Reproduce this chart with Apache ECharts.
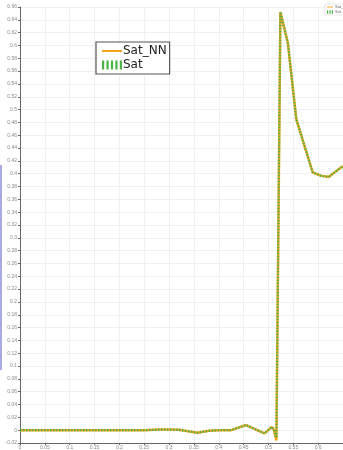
<!DOCTYPE html>
<html>
<head>
<meta charset="utf-8">
<script src="https://cdn.jsdelivr.net/npm/echarts@6/dist/echarts.min.js"></script>
<style>
  html, body { margin: 0; padding: 0; background: #fff; }
  #chart { width: 343px; height: 450px; }
</style>
</head>
<body>
<div id="chart"></div>
<script>
// Saturation profiles along the domain
const xPos   = [0, 0.05, 0.1, 0.15, 0.2, 0.25, 0.28, 0.3, 0.32, 0.357, 0.38, 0.4, 0.425, 0.455, 0.492, 0.507, 0.511, 0.516, 0.524, 0.539, 0.556, 0.589, 0.605, 0.621, 0.65];
const satNN  = [0, 0, 0, 0, 0, 0, 0.001, 0.001, 0.0005, -0.004, -0.001, 0, 0, 0.008, -0.005, 0.005, 0, -0.016, 0.652, 0.604, 0.485, 0.402, 0.397, 0.395, 0.412];
const sat    = [0, 0, 0, 0, 0, 0, 0.001, 0.001, 0.0005, -0.004, -0.001, 0, 0, 0.008, -0.005, 0.005, 0, -0.012, 0.652, 0.604, 0.485, 0.402, 0.397, 0.395, 0.412];
const yTicks = { min: -0.02, max: 0.66, step: 0.02 };
const xTicks = { min: 0, max: 0.65, step: 0.05 };

const pair = (xs, ys) => xs.map((x, i) => [x, ys[i]]);
const fmt = v => String(parseFloat(v.toFixed(2)));

const ORANGE = '#f5a31f';
const GREEN = '#4cb34a';

const chart = echarts.init(document.getElementById('chart'));
chart.setOption({
  animation: false,
  backgroundColor: '#fff',
  grid: { left: 20, top: 7, width: 324, height: 437.5, containLabel: false },
  xAxis: {
    type: 'value', min: xTicks.min, max: xTicks.max, interval: xTicks.step,
    axisLine: { show: true, onZero: false, lineStyle: { color: '#666', width: 1 } },
    axisTick: { show: true, length: 2, lineStyle: { color: '#666' } },
    axisLabel: { fontSize: 5, color: '#888', margin: 2, formatter: fmt, showMaxLabel: false },
    splitLine: { show: true, lineStyle: { color: '#f0f0f0', width: 1 } }
  },
  yAxis: {
    type: 'value', min: yTicks.min, max: yTicks.max, interval: yTicks.step,
    axisLine: { show: true, onZero: false, lineStyle: { color: '#666', width: 1 } },
    axisTick: { show: true, length: 2, lineStyle: { color: '#666' } },
    axisLabel: { fontSize: 5, color: '#888', margin: 3, formatter: fmt },
    splitLine: { show: true, lineStyle: { color: '#f0f0f0', width: 1 } }
  },
  legend: [
    {
      left: 96, top: 42, orient: 'vertical',
      backgroundColor: '#fff', borderColor: '#555', borderWidth: 1.2, borderRadius: 0,
      padding: [3, 3, 3, 6], itemGap: 2, itemWidth: 20, itemHeight: 14,
      textStyle: { fontSize: 12, color: '#222', fontFamily: 'DejaVu Sans', padding: [0, 0, 0, -4] },
      data: [
        { name: 'Sat_NN', icon: 'path://M0,6L20,6L20,8L0,8Z', itemStyle: { color: ORANGE } },
        { name: 'Sat', icon: 'path://M0,3h2v8h-2zM4,3h2v8h-2zM8,3h2v8h-2zM12,3h2v8h-2zM16,3h2v8h-2z', itemStyle: { color: GREEN } }
      ]
    },
    {
      right: -8, top: 4, orient: 'vertical',
      backgroundColor: '#fff', borderColor: '#ccc', borderWidth: 0.5, borderRadius: 0,
      padding: [1, 2, 1, 2], itemGap: 1, itemWidth: 6, itemHeight: 4,
      textStyle: { fontSize: 4, color: '#666', padding: [0, 0, 0, -3] },
      data: [
        { name: 'Sat_NN', icon: 'path://M0,1.5L6,1.5L6,2.5L0,2.5Z', itemStyle: { color: ORANGE } },
        { name: 'Sat', icon: 'path://M0,1h1v3h-1zM2,1h1v3h-1zM4,1h1v3h-1z', itemStyle: { color: GREEN } }
      ]
    }
  ],
  graphic: [
    { type: 'rect', left: 0, top: 165, shape: { width: 2, height: 205 }, style: { fill: '#a9a9e6' }, silent: true }
  ],
  series: [
    {
      name: 'Sat_NN', type: 'line', data: pair(xPos, satNN),
      showSymbol: false, symbol: 'none',
      lineStyle: { color: ORANGE, width: 2.5 }, itemStyle: { color: ORANGE }, z: 2
    },
    {
      name: 'Sat', type: 'line', data: pair(xPos, sat),
      showSymbol: false, symbol: 'none',
      lineStyle: { color: GREEN, width: 2.2, type: [1.5, 1.5] }, itemStyle: { color: GREEN }, z: 3
    }
  ]
});
</script>
</body>
</html>
